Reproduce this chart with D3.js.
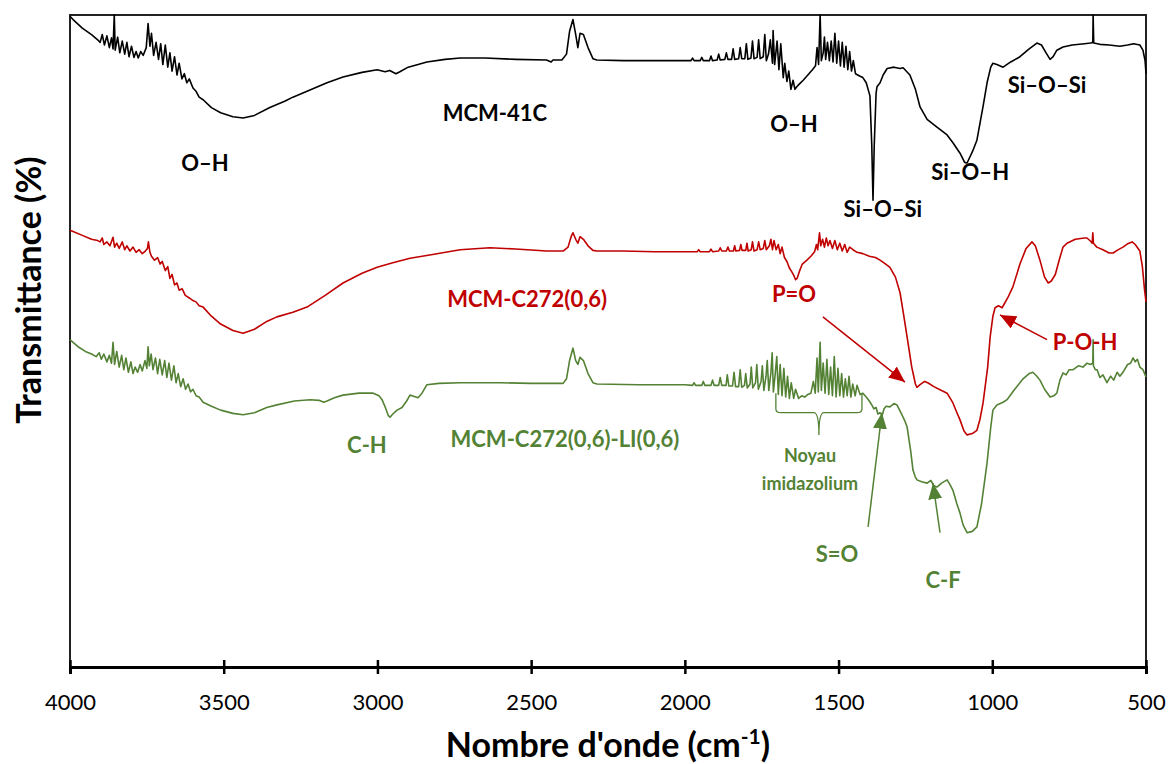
<!DOCTYPE html>
<html>
<head>
<meta charset="utf-8">
<script src="https://cdn.jsdelivr.net/npm/d3@7"></script>
<style>
  body { margin: 0; background: #fff; }
  text { font-family: Lato, "Open Sans", sans-serif; }
</style>
</head>
<body>
<div id="container"></div>
<script>
/* CONSTANTS AND GLOBALS */
const width = 1168,
  height = 764,
  margin = { top: 15, bottom: 97, left: 70, right: 22 };

// x ticks (wavenumber, cm-1)
const xTicks = [4000, 3500, 3000, 2500, 2000, 1500, 1000, 500];

// MCM-41C spectrum [wavenumber, transmittance]
const mcm41c = [
  [4000, 99.8], [3990, 99.3], [3960, 98.0], [3930, 97.0], [3910, 96.2], [3902, 95.8], [3895, 97.0], [3888, 95.4],
  [3880, 96.8], [3872, 95.0], [3865, 96.5], [3860, 94.8], [3856, 100], [3853, 94.6], [3845, 96.6], [3838, 94.2],
  [3830, 96.0], [3822, 94.0], [3815, 95.8], [3808, 93.6], [3800, 95.2], [3792, 93.5], [3785, 94.4], [3778, 93.4],
  [3770, 94.4], [3762, 93.8], [3752, 95.0], [3746, 98.7], [3740, 95.2], [3735, 97.2], [3728, 93.8], [3720, 95.8],
  [3712, 93.2], [3705, 95.6], [3698, 92.4], [3690, 95.4], [3682, 92.0], [3675, 94.2], [3668, 91.4], [3660, 93.6],
  [3652, 90.8], [3645, 92.6], [3636, 90.2], [3628, 91.0], [3620, 89.6], [3612, 90.2], [3600, 88.8], [3590, 88.3],
  [3580, 87.4], [3567, 87.0], [3540, 85.8], [3510, 85.0], [3470, 84.4], [3437, 84.2], [3400, 84.6], [3350, 85.8],
  [3300, 86.8], [3275, 87.4], [3229, 88.3], [3164, 89.6], [3112, 90.5], [3050, 91.2], [3001, 91.6], [2975, 91.3],
  [2960, 91.5], [2940, 91.0], [2927, 91.3], [2900, 92.0], [2868, 92.4], [2839, 92.8], [2780, 93.2], [2731, 93.4],
  [2650, 93.4], [2550, 93.2], [2450, 93.1], [2435, 92.8], [2429, 93.1], [2400, 93.1], [2385, 94.0], [2375, 97.5],
  [2364, 99.3], [2355, 97.0], [2348, 95.0], [2341, 97.2], [2330, 97.0], [2315, 95.0], [2299, 93.3], [2286, 93.1],
  [2200, 93.0], [2100, 93.0], [2000, 93.0], [1980, 93.0], [1975, 93.4], [1970, 93.0], [1950, 93.0], [1945, 93.5],
  [1940, 93.0], [1920, 93.0], [1915, 93.7], [1910, 93.0], [1895, 93.1], [1890, 94.0], [1885, 93.1], [1870, 93.2],
  [1865, 94.2], [1860, 93.2], [1848, 93.2], [1843, 94.8], [1838, 93.2], [1825, 93.3], [1820, 95.0], [1815, 93.3],
  [1805, 93.3], [1800, 95.6], [1795, 93.2], [1785, 93.4], [1780, 96.0], [1775, 93.3], [1765, 93.5], [1760, 96.2],
  [1755, 93.3], [1745, 93.6], [1740, 97.0], [1735, 93.0], [1728, 94.0], [1722, 96.2], [1715, 92.6], [1713, 97.6],
  [1708, 92.4], [1700, 96.0], [1694, 91.6], [1688, 95.6], [1680, 90.4], [1675, 92.6], [1668, 89.8], [1662, 91.4],
  [1655, 88.6], [1648, 90.0], [1642, 88.6], [1636, 89.0], [1628, 89.4], [1615, 90.0], [1600, 90.8], [1585, 91.6],
  [1575, 92.2], [1570, 95.0], [1565, 92.4], [1560, 100], [1556, 93.0], [1550, 94.2], [1546, 96.6], [1542, 93.2],
  [1536, 95.8], [1530, 93.0], [1524, 96.0], [1518, 92.8], [1512, 97.2], [1506, 92.6], [1500, 96.0], [1494, 92.2],
  [1488, 95.8], [1482, 92.0], [1476, 95.2], [1470, 91.6], [1464, 94.4], [1458, 91.4], [1452, 93.0], [1445, 91.0],
  [1430, 90.6], [1421, 90.4], [1410, 89.6], [1398, 87.6], [1392, 80.0], [1388, 71.6], [1384, 80.0], [1378, 88.0],
  [1375, 89.0], [1365, 89.6], [1355, 90.8], [1342, 91.8], [1320, 92.0], [1300, 91.8], [1290, 91.9], [1268, 90.8],
  [1250, 88.6], [1235, 85.9], [1212, 84.0], [1180, 82.8], [1147, 81.6], [1128, 80.4], [1105, 78.8], [1090, 77.4],
  [1082, 77.3], [1065, 79.0], [1050, 80.8], [1030, 86.0], [1017, 89.6], [1005, 92.0], [998, 92.6], [985, 92.4],
  [965, 92.0], [940, 92.8], [910, 93.6], [880, 94.8], [855, 95.7], [840, 95.4], [825, 94.2], [812, 93.2],
  [802, 93.6], [790, 94.6], [770, 95.1], [740, 95.4], [700, 95.6], [680, 95.7], [673, 95.8], [672, 100],
  [670, 95.7], [650, 95.5], [620, 95.4], [585, 95.2], [560, 95.4], [540, 95.6], [520, 95.4], [510, 94.6],
  [503, 93.0], [500, 91.0]
];

// MCM-C272(0,6) spectrum
const mcmC272 = [
  [4000, 67.0], [3990, 66.8], [3960, 66.2], [3930, 65.6], [3910, 65.4], [3902, 65.2], [3895, 65.8], [3890, 64.8],
  [3880, 65.2], [3870, 64.6], [3860, 65.9], [3855, 64.4], [3848, 65.0], [3840, 64.2], [3830, 65.2], [3822, 64.0],
  [3815, 64.6], [3805, 63.8], [3795, 64.4], [3785, 63.6], [3775, 64.0], [3765, 63.4], [3755, 63.8], [3748, 64.2],
  [3745, 65.2], [3740, 63.6], [3735, 63.0], [3725, 62.4], [3715, 62.8], [3707, 61.8], [3700, 62.2], [3690, 60.8],
  [3682, 61.4], [3675, 59.6], [3668, 60.2], [3660, 58.6], [3652, 58.9], [3645, 57.8], [3635, 58.0], [3625, 57.0],
  [3612, 56.6], [3600, 56.2], [3590, 56.0], [3580, 55.4], [3567, 55.2], [3540, 53.8], [3510, 52.6], [3470, 51.6],
  [3437, 51.2], [3400, 51.8], [3360, 53.0], [3327, 53.7], [3275, 54.4], [3229, 55.2], [3170, 57.0], [3112, 58.9],
  [3050, 60.4], [3001, 61.3], [2950, 62.0], [2894, 62.7], [2830, 63.2], [2731, 64.0], [2634, 64.3], [2550, 64.1],
  [2450, 63.8], [2396, 63.8], [2380, 64.4], [2370, 66.0], [2364, 66.6], [2355, 65.6], [2348, 65.0], [2341, 66.0],
  [2330, 65.6], [2315, 64.6], [2299, 63.9], [2286, 63.8], [2200, 63.8], [2100, 63.7], [1983, 63.7], [1960, 63.7],
  [1955, 64.0], [1950, 63.7], [1920, 63.7], [1915, 64.1], [1910, 63.7], [1890, 63.8], [1885, 64.3], [1880, 63.8],
  [1865, 63.8], [1860, 64.4], [1855, 63.8], [1842, 63.8], [1838, 64.6], [1834, 63.8], [1822, 63.9], [1818, 64.8],
  [1814, 63.9], [1802, 63.9], [1798, 65.0], [1794, 63.8], [1784, 64.0], [1780, 65.2], [1775, 63.8], [1765, 64.0],
  [1760, 65.2], [1755, 64.0], [1745, 64.2], [1740, 65.4], [1735, 64.0], [1725, 64.6], [1720, 65.6], [1715, 64.0],
  [1710, 65.4], [1703, 64.0], [1696, 64.8], [1690, 63.4], [1684, 64.4], [1676, 62.8], [1668, 62.2], [1660, 61.2],
  [1652, 60.6], [1645, 60.0], [1640, 59.4], [1635, 59.6], [1628, 60.6], [1618, 61.8], [1603, 62.4], [1590, 63.0],
  [1578, 63.7], [1572, 64.8], [1568, 64.0], [1562, 66.6], [1558, 64.6], [1552, 65.6], [1546, 64.4], [1540, 65.8],
  [1534, 64.6], [1528, 65.4], [1520, 64.2], [1512, 65.4], [1504, 64.0], [1496, 65.0], [1488, 63.8], [1480, 64.8],
  [1472, 63.6], [1464, 64.4], [1453, 64.0], [1440, 63.6], [1421, 63.4], [1400, 63.0], [1380, 62.8], [1365, 62.4],
  [1350, 61.9], [1333, 61.3], [1315, 59.8], [1300, 57.4], [1290, 54.5], [1277, 50.6], [1262, 46.0], [1250, 43.4],
  [1245, 42.9], [1235, 43.3], [1220, 43.8], [1210, 43.6], [1190, 43.0], [1165, 42.4], [1147, 42.0], [1128, 40.5],
  [1115, 39.0], [1105, 37.9], [1092, 36.2], [1082, 35.6], [1065, 35.8], [1050, 36.3], [1040, 38.0], [1030, 40.5],
  [1015, 46.0], [1007, 50.6], [998, 53.8], [991, 55.1], [980, 55.4], [968, 55.1], [950, 56.6], [933, 58.3],
  [910, 61.8], [890, 64.2], [871, 65.2], [860, 64.6], [845, 62.4], [830, 59.8], [818, 58.9], [808, 59.2],
  [795, 60.2], [780, 62.8], [770, 64.4], [757, 65.0], [730, 65.6], [700, 65.8], [692, 65.8], [680, 65.3],
  [675, 65.0], [673, 66.6], [671, 65.0], [660, 64.4], [640, 64.0], [620, 63.5], [607, 63.5], [594, 63.9],
  [575, 64.4], [560, 64.9], [545, 65.2], [535, 64.8], [520, 63.8], [512, 61.5], [505, 58.0], [500, 56.0]
];

// MCM-C272(0,6)-LI(0,6) spectrum
const mcmC272LI = [
  [4000, 50.2], [3990, 49.8], [3970, 49.0], [3950, 48.4], [3930, 48.0], [3915, 47.6], [3905, 48.2], [3898, 47.2],
  [3890, 48.0], [3880, 46.8], [3872, 47.8], [3865, 46.6], [3860, 49.8], [3855, 46.4], [3848, 48.4], [3840, 46.0],
  [3832, 47.8], [3825, 45.6], [3818, 47.4], [3810, 45.2], [3802, 46.8], [3795, 45.0], [3788, 46.0], [3780, 45.2],
  [3772, 46.4], [3765, 45.4], [3756, 47.0], [3750, 45.8], [3746, 49.1], [3742, 46.2], [3736, 48.0], [3730, 45.6],
  [3722, 47.4], [3715, 45.0], [3708, 47.2], [3700, 44.8], [3692, 47.0], [3685, 44.4], [3678, 46.6], [3670, 44.0],
  [3662, 46.2], [3655, 43.6], [3648, 45.0], [3640, 43.0], [3632, 44.2], [3624, 42.6], [3616, 43.4], [3608, 42.2],
  [3600, 42.6], [3590, 41.6], [3580, 41.4], [3567, 40.6], [3540, 40.0], [3510, 39.4], [3470, 38.9], [3437, 38.7],
  [3400, 39.0], [3360, 39.8], [3327, 40.2], [3270, 40.8], [3219, 41.0], [3190, 40.9], [3175, 40.6], [3164, 40.8],
  [3140, 41.3], [3112, 41.7], [3060, 42.0], [3014, 42.0], [2995, 41.6], [2985, 41.0], [2975, 39.9], [2965, 38.6],
  [2959, 38.3], [2950, 38.8], [2936, 39.4], [2920, 39.8], [2905, 40.8], [2894, 41.7], [2880, 41.5], [2868, 41.3],
  [2855, 42.0], [2839, 43.3], [2800, 43.5], [2731, 43.6], [2600, 43.6], [2500, 43.5], [2396, 43.5], [2385, 44.2],
  [2375, 47.0], [2364, 48.9], [2355, 47.0], [2348, 46.4], [2341, 47.5], [2330, 47.0], [2315, 45.0], [2299, 43.6],
  [2286, 43.4], [2150, 43.3], [2000, 43.3], [1975, 43.2], [1970, 43.6], [1965, 43.2], [1945, 43.2], [1940, 43.8],
  [1935, 43.2], [1915, 43.2], [1910, 44.0], [1905, 43.2], [1890, 43.2], [1885, 44.4], [1880, 43.2], [1866, 43.2],
  [1862, 44.8], [1857, 43.1], [1845, 43.1], [1840, 45.2], [1835, 43.0], [1825, 43.0], [1820, 45.6], [1815, 42.9],
  [1806, 43.2], [1802, 45.0], [1797, 42.8], [1788, 43.4], [1784, 46.0], [1779, 42.8], [1770, 43.6], [1766, 46.4],
  [1761, 42.6], [1752, 43.8], [1748, 46.2], [1743, 42.4], [1736, 44.6], [1732, 47.0], [1727, 42.4], [1720, 45.2],
  [1716, 48.2], [1712, 42.2], [1706, 45.0], [1701, 47.6], [1696, 41.8], [1690, 46.4], [1684, 41.6], [1678, 45.8],
  [1672, 41.4], [1666, 44.6], [1660, 41.2], [1654, 43.6], [1646, 41.2], [1640, 42.6], [1630, 41.2], [1620, 41.6],
  [1610, 41.4], [1600, 41.8], [1590, 42.0], [1582, 43.8], [1576, 42.0], [1570, 47.4], [1566, 42.2], [1560, 49.8],
  [1556, 42.4], [1550, 46.6], [1544, 42.0], [1538, 47.2], [1532, 41.8], [1526, 46.0], [1520, 41.6], [1514, 47.6],
  [1508, 41.4], [1502, 45.8], [1496, 41.6], [1490, 45.0], [1484, 41.4], [1478, 44.2], [1472, 41.6], [1466, 44.6],
  [1460, 41.4], [1454, 43.4], [1446, 41.6], [1440, 43.2], [1430, 41.8], [1421, 42.0], [1410, 41.4], [1400, 40.8],
  [1392, 40.2], [1385, 39.6], [1378, 39.8], [1372, 38.8], [1365, 39.0], [1358, 38.6], [1352, 39.6], [1345, 40.0],
  [1333, 39.9], [1320, 40.4], [1310, 40.2], [1295, 38.8], [1285, 37.8], [1277, 36.8], [1265, 33.0], [1258, 30.2],
  [1251, 29.2], [1245, 28.7], [1230, 28.4], [1212, 28.2], [1200, 28.6], [1190, 27.8], [1180, 27.6], [1165, 28.2],
  [1147, 28.7], [1138, 28.0], [1128, 27.1], [1115, 25.0], [1105, 23.6], [1095, 21.8], [1082, 20.6], [1065, 20.8],
  [1050, 21.5], [1035, 25.0], [1017, 31.3], [1005, 36.8], [998, 39.4], [985, 40.2], [965, 40.6], [952, 41.0],
  [930, 42.4], [900, 44.2], [880, 45.0], [868, 45.2], [855, 44.6], [845, 44.0], [830, 42.6], [812, 41.4],
  [800, 41.6], [790, 42.0], [780, 44.0], [770, 45.1], [760, 44.8], [750, 45.6], [737, 45.6], [720, 46.2],
  [705, 46.0], [692, 46.6], [680, 46.4], [673, 46.6], [672, 50.2], [671, 46.2], [665, 45.6], [659, 45.6],
  [650, 44.4], [640, 44.8], [627, 43.6], [615, 44.6], [605, 44.0], [594, 45.2], [585, 44.6], [575, 45.2],
  [560, 46.4], [550, 46.6], [542, 47.4], [535, 46.8], [528, 47.2], [520, 46.0], [510, 45.6], [500, 44.5]
];

const seriesNames = ["MCM-41C", "MCM-C272(0,6)", "MCM-C272(0,6)-LI(0,6)"];
const seriesColors = ["#000000", "#C00000", "#548235"];

// annotations [text, wavenumber, transmittance, colour index, size]
const labels = [
  ["O–H", 3561, 76.1, 0, 22],
  ["MCM-41C", 2618, 83.7, 0, 22],
  ["O–H", 1645, 82.1, 0, 22],
  ["Si–O–Si", 1356, 69.0, 0, 22],
  ["Si–O–H", 1072, 74.7, 0, 22],
  ["Si–O–Si", 822, 88.0, 0, 22],
  ["MCM-C272(0,6)", 2513, 55.2, 1, 22],
  ["P=O", 1645, 56.0, 1, 22],
  ["P-O-H", 698, 48.6, 1, 22],
  ["C-H", 3034, 32.8, 2, 22],
  ["MCM-C272(0,6)-LI(0,6)", 2390, 33.7, 2, 22],
  ["Noyau", 1593, 31.4, 2, 18],
  ["imidazolium", 1593, 27.1, 2, 18],
  ["S=O", 1505, 16.1, 2, 22],
  ["C-F", 1160, 12.1, 2, 22]
];

// arrows [from wn, from T, to wn, to T, colour index]
const arrows = [
  [1551, 53.7, 1284, 43.7, 1],
  [822, 50.2, 975, 54.0, 1],
  [1404, 21.5, 1359, 39.0, 2],
  [1170, 20.6, 1193, 28.2, 2]
];

// brace over imidazolium band [left wn, right wn, top T, bottom T, tip T]
const brace = [1704, 1424, 42.0, 39.0, 35.6];

/* SCALES */
const xScale = d3.scaleLinear()
  .domain([4000, 500])
  .range([margin.left, width - margin.right]);

const yScale = d3.scaleLinear()
  .domain([0, 100])
  .range([height - margin.bottom, margin.top]);

/* HTML ELEMENTS */
const svg = d3.select("#container")
  .append("svg")
  .attr("width", width)
  .attr("height", height)
  .style("background-color", "white");

const defs = svg.append("defs");
seriesColors.forEach((c, i) => {
  defs.append("marker")
    .attr("id", "head" + i)
    .attr("markerUnits", "userSpaceOnUse")
    .attr("markerWidth", 16)
    .attr("markerHeight", 14)
    .attr("refX", 16)
    .attr("refY", 7)
    .attr("orient", "auto")
    .append("path")
    .attr("d", "M0,0 L16,7 L0,14 Z")
    .attr("fill", c);
});

// plot frame
svg.append("rect")
  .attr("x", xScale(4000))
  .attr("y", yScale(100))
  .attr("width", xScale(500) - xScale(4000))
  .attr("height", yScale(0) - yScale(100))
  .attr("fill", "none")
  .attr("stroke", "#222")
  .attr("stroke-width", 2);

// spectra
const line = d3.line()
  .x(d => xScale(d[0]))
  .y(d => yScale(d[1]));

[mcm41c, mcmC272, mcmC272LI].forEach((s, i) => {
  svg.append("path")
    .datum(s)
    .attr("fill", "none")
    .attr("stroke", seriesColors[i])
    .attr("stroke-width", 1.6)
    .attr("stroke-linejoin", "round")
    .attr("d", line);
});

// x axis
const xAxis = d3.axisBottom(xScale)
  .tickValues(xTicks)
  .tickFormat(d3.format("d"))
  .tickSize(7)
  .tickPadding(20);

const gx = svg.append("g")
  .attr("transform", `translate(0,${yScale(0)})`)
  .call(xAxis);
gx.select(".domain").attr("stroke", "#000").attr("stroke-width", 3);
gx.selectAll(".tick line").attr("y1", -7).attr("stroke", "#000").attr("stroke-width", 2.5);
gx.selectAll(".tick text")
  .style("font-family", "Lato, sans-serif")
  .style("font-size", "22px")
  .attr("fill", "#000");

// axis titles
const xt = svg.append("text")
  .attr("x", 608)
  .attr("y", 757)
  .attr("text-anchor", "middle")
  .style("font-size", "34px")
  .style("font-weight", "bold")
  .text("Nombre d'onde (cm");
xt.append("tspan").attr("dy", -13).style("font-size", "21px").text("-1");
xt.append("tspan").attr("dy", 13).text(")");

svg.append("text")
  .attr("transform", "translate(41,290) rotate(-90)")
  .attr("text-anchor", "middle")
  .style("font-size", "34px")
  .style("font-weight", "bold")
  .text("Transmittance (%)");

// annotations
svg.append("g")
  .selectAll("text")
  .data(labels)
  .join("text")
  .attr("x", d => xScale(d[1]))
  .attr("y", d => yScale(d[2]))
  .attr("text-anchor", "middle")
  .attr("fill", d => seriesColors[d[3]])
  .style("font-size", d => d[4] + "px")
  .style("font-weight", "bold")
  .text(d => d[0]);

svg.append("g")
  .selectAll("line")
  .data(arrows)
  .join("line")
  .attr("x1", d => xScale(d[0]))
  .attr("y1", d => yScale(d[1]))
  .attr("x2", d => xScale(d[2]))
  .attr("y2", d => yScale(d[3]))
  .attr("stroke", d => seriesColors[d[4]])
  .attr("stroke-width", 1.5)
  .attr("marker-end", d => `url(#head${d[4]})`);

// curly brace
const bl = xScale(brace[0]), br = xScale(brace[1]),
  bt = yScale(brace[2]), bm = yScale(brace[3]), bp = yScale(brace[4]),
  bc = (bl + br) / 2;
svg.append("path")
  .attr("d", `M${bl},${bt} V${bm - 4} Q${bl},${bm} ${bl + 5},${bm} H${bc - 5} Q${bc},${bm} ${bc},${bp} Q${bc},${bm} ${bc + 5},${bm} H${br - 5} Q${br},${bm} ${br},${bm - 4} V${bt}`)
  .attr("fill", "none")
  .attr("stroke", seriesColors[2])
  .attr("stroke-width", 1.3);
</script>
</body>
</html>
